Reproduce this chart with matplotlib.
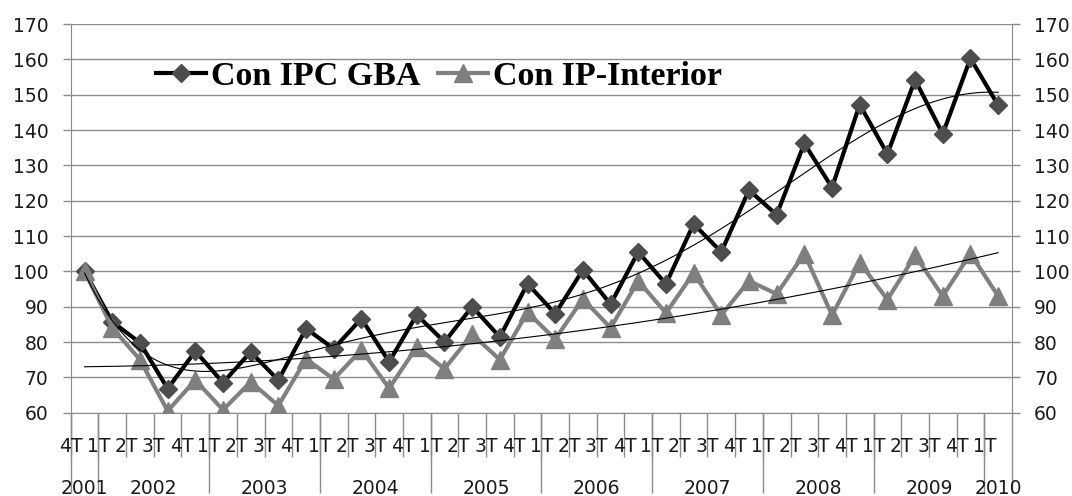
import numpy as np
import matplotlib.pyplot as plt

quarters = ['4T'] + ['1T', '2T', '3T', '4T'] * 8 + ['1T']
years = ['2001', '2002', '2003', '2004', '2005', '2006', '2007', '2008', '2009', '2010']
year_counts = [1, 4, 4, 4, 4, 4, 4, 4, 4, 1]

ipc_gba = [100, 85.7, 79.8, 66.8, 77.4, 68.5, 77.2, 69.2, 83.8, 78.1,
           86.6, 74.4, 87.7, 80, 90, 81.4, 96.5, 88, 100.4, 90.7,
           105.5, 96.4, 113.4, 105.5, 123, 116, 136.2, 123.7, 147.2, 133.2,
           154.2, 138.9, 160.3, 147]
ip_interior = [100, 84, 75, 60.5, 69.2, 60.8, 68.7, 62, 75.2, 69.5,
               77.8, 66.9, 78.6, 72.4, 82.2, 75, 88.4, 80.8, 92.2, 84,
               97.3, 88.2, 99.5, 87.6, 97.3, 93.6, 105, 87.6, 102.5, 92,
               104.5, 93, 105, 93]

plt.rcParams['font.family'] = 'DejaVu Sans'
grey = '#8c8c8c'

fig = plt.figure(figsize=(10.72, 4.96), dpi=100)
ax = fig.add_axes([0.066, 0.168, 0.878, 0.7836])

x = np.arange(len(ipc_gba))
ax.plot(x, ipc_gba, color='black', lw=3, marker='D', ms=9,
        mfc='#4d4d4d', mec='#4d4d4d', label='Con IPC GBA', zorder=3)
ax.plot(x, ip_interior, color='#808080', lw=3, marker='^', ms=13,
        mfc='#7f7f7f', mec='#7f7f7f', label='Con IP-Interior', zorder=4)

# polynomial trend lines, as in the spreadsheet
xs = np.linspace(0, len(x) - 1, 300)
ax.plot(xs, np.polyval(np.polyfit(x, ipc_gba, 6), xs), color='black', lw=0.8, zorder=5)
ax.plot(xs, np.polyval(np.polyfit(x, ip_interior, 2), xs), color='black', lw=0.8, zorder=5)

ax.set_xlim(-0.5, len(x) - 0.5)
ax.set_ylim(60, 170)
ax.set_yticks(range(60, 171, 10))
ax.grid(True, axis='y', color=grey, lw=1)
ax.set_axisbelow(True)
ax.tick_params(axis='y', direction='out', length=6, width=1, color=grey,
               labelsize=13.5, labelcolor='#1a1a1a', pad=10,
               left=True, right=True, labelright=True)
ax.spines['top'].set_visible(False)
for s in ['left', 'right', 'bottom']:
    ax.spines[s].set_color(grey)

# quarter labels on the category boundaries
ax.set_xticks(x - 0.5, quarters)
ax.tick_params(axis='x', which='major', length=31.7, width=1, color=grey,
               labelsize=13.5, labelcolor='#1a1a1a', pad=-14.5)
# year labels in the middle of each year
bounds = np.concatenate([[-0.5], np.cumsum(year_counts) - 0.5])
centers = (bounds[:-1] + bounds[1:]) / 2
ax.xaxis.remove_overlapping_locs = False
ax.set_xticks(centers, years, minor=True)
ax.tick_params(axis='x', which='minor', length=0, labelsize=13.5,
               labelcolor='#1a1a1a', pad=47.5)

# long separators between years
sec = ax.secondary_xaxis('bottom')
sec.set_xticks(bounds, [])
sec.tick_params(length=57.6, width=1, color=grey)
sec.spines['bottom'].set_visible(False)

ax.legend(loc='center left', bbox_to_anchor=(0.0906, 0.864), ncol=2, frameon=False,
          prop=dict(family='Liberation Serif', weight='bold', size=24.5),
          handlelength=1.47, handletextpad=0.15, columnspacing=0.5,
          borderpad=0, borderaxespad=0)

fig.savefig('out.png', dpi=100)
